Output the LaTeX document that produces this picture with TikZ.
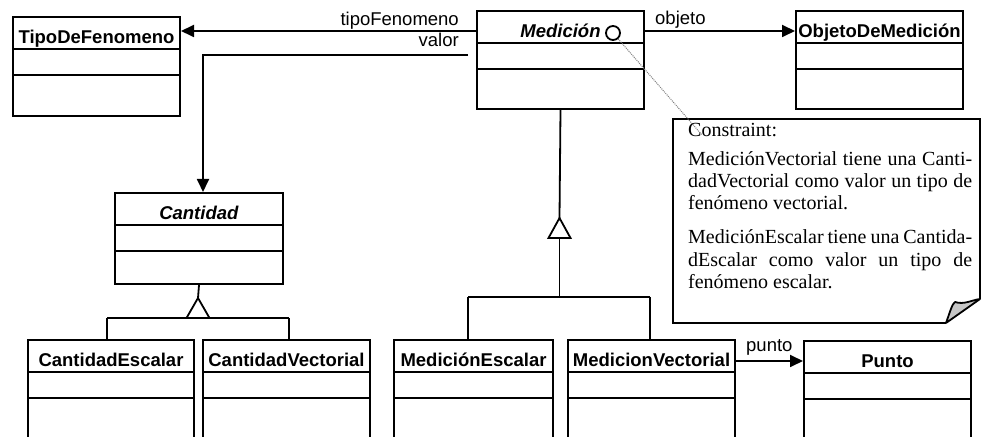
\documentclass[tikz,border=0pt]{standalone}
\usepackage{fontspec}
\setmainfont{Liberation Serif}
\setsansfont{Liberation Sans}
\usetikzlibrary{arrows.meta,calc}

\tikzset{
  classbox/.style={draw, line width=2bp, anchor=north west, inner sep=0pt},
  classrule/.style={line width=2bp},
  classtitle/.style={font=\sffamily\bfseries\fontsize{18.5bp}{20bp}\selectfont, inner sep=0pt, anchor=base},
  assoc/.style={line width=1.8bp, -{Triangle[length=13bp,width=12bp]}},
  inherit/.style={line width=1.8bp},
  rolelabel/.style={font=\sffamily\fontsize{18.5bp}{20bp}\selectfont, inner sep=0pt},
  notetext/.style={font=\fontsize{20bp}{22bp}\selectfont, inner sep=0pt, anchor=base west},
}

% UML class: name, left, top, right, bottom, title
\newcommand\umlclass[6]{%
  \node[classbox, minimum width={(#4-#2)*1bp}, minimum height={(#5-#3)*1bp}] (#1) at (#2,#3) {};
  \draw[classrule] ([yshift=-33bp]#1.north west) -- ([yshift=-33bp]#1.north east)
                   ([yshift=-59bp]#1.north west) -- ([yshift=-59bp]#1.north east);
  \node[classtitle] (#1-title) at ([yshift=-28bp]#1.north) {#6};
}

\begin{document}
\begin{tikzpicture}[x=1bp, y=-1bp]
  \useasboundingbox (0,0) rectangle (981,437);
  \fill[white] (0,0) rectangle (981,437);
  \clip (0,0) rectangle (981,437);

  % classes
  \umlclass{tipo}{12}{16}{179}{115}{TipoDeFenomeno}
  \umlclass{med}{476}{10}{643}{108}{\textit{Medición}}
  \umlclass{obj}{795}{10}{962}{108}{ObjetoDeMedición}
  \umlclass{cant}{114}{192}{282}{283}{\textit{Cantidad}}
  \umlclass{cesc}{27}{339}{193}{445}{CantidadEscalar}
  \umlclass{cvec}{202}{339}{369}{445}{CantidadVectorial}
  \umlclass{mesc}{393}{339}{552}{445}{MediciónEscalar}
  \umlclass{mvec}{567}{339}{734}{445}{MedicionVectorial}
  \umlclass{punto}{803}{340}{970}{445}{Punto}

  % constraint marker on Medición
  \node[circle, draw, line width=1.8bp, minimum size=14bp, inner sep=0pt] (cons) at (613,33) {};

  % associations
  \coordinate (yrole) at (0,31);
  \draw[assoc] (yrole -| med.west) -- (yrole -| tipo.east);
  \draw[assoc] (yrole -| med.east) -- (yrole -| obj.west);
  \coordinate (valorend) at (468,55);
  \draw[assoc] (valorend) -| ([xshift=4bp]cant.north);
  \coordinate (ypunto) at (0,361);
  \draw[assoc] (ypunto -| mvec.east) -- (ypunto -| punto.west);

  \node[rolelabel, anchor=base east] (lbl-tipo) at (459,26) {tipoFenomeno};
  \node[rolelabel, anchor=base east] (lbl-valor) at (459,47) {valor};
  \node[rolelabel, anchor=base west] (lbl-obj) at (655,25) {objeto};
  \node[rolelabel, anchor=base west] (lbl-punto) at (746,352) {punto};

  % generalization: Cantidad
  \coordinate (capex) at (198,298);
  \draw[inherit] (cant.south) -- (capex);
  \draw[inherit] (107,318) -- (289,318);
  \draw[inherit, fill=white] (capex) -- ++(-11.5,20) -- ++(23,0) -- cycle;
  \draw[inherit] (107,318) -- (107,0 |- cesc.north);
  \draw[inherit] (289,318) -- (289,0 |- cvec.north);

  % generalization: Medición
  \coordinate (mapex) at (559.5,218);
  \draw[inherit] (med.south) -- (mapex);
  \draw[inherit] (559.5,238) -- (559.5,297);
  \draw[inherit] (468,297) -- (650,297);
  \draw[inherit, fill=white] (mapex) -- ++(-11,20) -- ++(22,0) -- cycle;
  \draw[inherit] (468,297) -- (468,0 |- mesc.north);
  \draw[inherit] (650,297) -- (650,0 |- mvec.north);

  % constraint note
  \draw[line width=2bp] (946,323) -- (673,323) -- (673,119.5) -- (979.5,119.5) -- (979.5,299);
  \draw[line width=1.8bp, fill=gray!45, line join=round]
    (946,323) .. controls (950,312) and (952,304) .. (955,302)
    .. controls (964,305) and (972,300) .. (980,299) -- cycle;
  \coordinate (noteend) at (702,135);
  \draw[densely dotted, gray, line width=1bp] (cons) -- (noteend);

  \node[notetext] (n0) at (688,137) {Constraint:};
  \node[notetext] (n1) at (688,166) {\makebox[284bp][s]{MediciónVectorial tiene una Canti-}};
  \node[notetext] (n2) at (688,188) {\makebox[284bp][s]{dadVectorial como valor un tipo de}};
  \node[notetext] (n3) at (688,210) {fenómeno vectorial.};
  \node[notetext] (n4) at (688,244) {\makebox[284bp][s]{MediciónEscalar tiene una Cantida-}};
  \node[notetext] (n5) at (688,267) {\makebox[284bp][s]{dEscalar como valor un tipo de}};
  \node[notetext] (n6) at (688,289) {fenómeno escalar.};
\end{tikzpicture}
\end{document}
